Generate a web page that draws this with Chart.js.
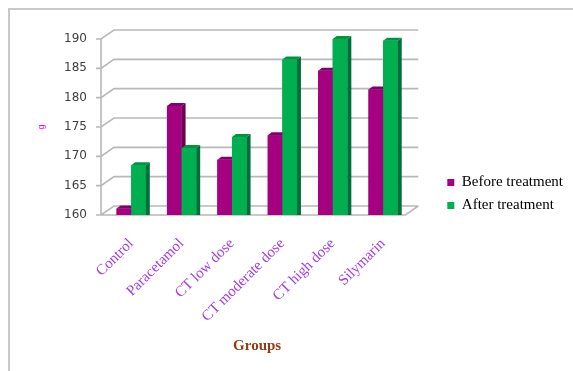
<!DOCTYPE html>
<html>
<head>
<meta charset="utf-8">
<script src="https://cdn.jsdelivr.net/npm/chart.js@4/dist/chart.umd.min.js"></script>
<style>
  body { margin: 0; background: #fff; }
</style>
</head>
<body>
<canvas id="myChart" width="573" height="371"></canvas>
<script>
// Data
var groups = ["Control", "Paracetamol", "CT low dose", "CT moderate dose", "CT high dose", "Silymarin"];
var beforeTreatment = [161.1, 178.6, 169.4, 173.6, 184.6, 181.4];
var afterTreatment = [168.5, 171.4, 173.3, 186.5, 190, 189.7];
var yTicks = [160, 165, 170, 175, 180, 185, 190];

// colours: front, side, top
var frontColors = ["#A5007F", "#00B050"];
var sideColors = ["#6A0052", "#00703A"];
var topColors = ["#82006A", "#009440"];
var depthX = 4, depthY = 3;

// back wall offset for the fake 3d grid
var wallX = 13, wallY = 9;

var frame = {
  id: "frame",
  afterLayout: function (chart) {
    // legend sits a little lower than the plot floor in the original
    chart.legend.top += 6;
    chart.legend.bottom += 6;
  },
  beforeDraw: function (chart) {
    var c = chart.ctx;
    c.save();
    c.fillStyle = "#fff";
    c.fillRect(0, 0, chart.width, chart.height);
    c.strokeStyle = "#c8c8c8";
    c.lineWidth = 2;
    c.beginPath();
    c.moveTo(9, chart.height);
    c.lineTo(9, 9);
    c.lineTo(chart.width, 9);
    c.stroke();
    c.restore();
  },
  beforeDatasetsDraw: function (chart) {
    var c = chart.ctx, a = chart.chartArea, y = chart.scales.y;
    var ax = a.left - 5;
    c.save();
    c.strokeStyle = "#b8b8b8";
    c.lineWidth = 1.6;
    c.beginPath();
    yTicks.forEach(function (v) {
      var py = y.getPixelForValue(v);
      c.moveTo(ax - 5, py);
      c.lineTo(ax, py);
      c.lineTo(ax + wallX, py - wallY);
      c.lineTo(a.right + 10, py - wallY);
    });
    // front axis and floor
    var b = y.getPixelForValue(yTicks[0]);
    c.moveTo(ax, y.getPixelForValue(yTicks[yTicks.length - 1]));
    c.lineTo(ax, b);
    c.lineTo(a.right - 3, b);
    c.lineTo(a.right - 3 + wallX, b - wallY);
    c.stroke();
    c.restore();
  },
  afterDatasetsDraw: function (chart) {
    var c = chart.ctx, a = chart.chartArea;
    c.save();
    c.beginPath();
    c.rect(a.left - 10, 0, a.right - a.left + 30, a.bottom);
    c.clip();
    chart.data.datasets.forEach(function (ds, i) {
      var meta = chart.getDatasetMeta(i);
      meta.data.forEach(function (el) {
        el.draw(c);
        var p = el.getProps(["x", "y", "base", "width"], true);
        var l = p.x - p.width / 2, r = p.x + p.width / 2;
        c.fillStyle = sideColors[i];
        c.beginPath();
        c.moveTo(r, p.y);
        c.lineTo(r + depthX, p.y - depthY);
        c.lineTo(r + depthX, p.base - depthY);
        c.lineTo(r, p.base);
        c.closePath();
        c.fill();
        c.fillStyle = topColors[i];
        c.beginPath();
        c.moveTo(l, p.y);
        c.lineTo(l + depthX, p.y - depthY);
        c.lineTo(r + depthX, p.y - depthY);
        c.lineTo(r, p.y);
        c.closePath();
        c.fill();
      });
    });
    c.restore();
  }
};

var ctx = document.getElementById("myChart").getContext("2d");

var myChart = new Chart(ctx, {
  type: "bar",
  data: {
    labels: groups,
    datasets: [
      { label: "Before treatment", data: beforeTreatment, backgroundColor: frontColors[0], borderWidth: 0 },
      { label: "After treatment", data: afterTreatment, backgroundColor: frontColors[1], borderWidth: 0 }
    ]
  },
  options: {
    responsive: false,
    animation: false,
    categoryPercentage: 0.58,
    barPercentage: 1.0,
    layout: { padding: { left: 33, top: 39, right: 0, bottom: 12 } },
    plugins: {
      tooltip: { enabled: false },
      legend: {
        position: "right",
        align: "end",
        fullSize: false,
        maxWidth: 300,
        labels: {
          boxWidth: 7,
          boxHeight: 7,
          padding: 8,
          color: "#000",
          font: { family: "Liberation Serif", size: 15 }
        }
      }
    },
    scales: {
      x: {
        grid: { display: false, drawTicks: false },
        border: { display: false },
        ticks: {
          minRotation: 45,
          maxRotation: 45,
          padding: 20,
          color: "#A23CE6",
          font: { family: "Liberation Serif", size: 15 }
        },
        title: {
          display: true,
          text: "Groups",
          color: "#943B10",
          font: { family: "Liberation Serif", size: 15, weight: "bold" },
          padding: { top: 4, bottom: 4 }
        },
        afterFit: function (s) { s.height = 144; }
      },
      y: {
        min: 160,
        max: 190,
        beginAtZero: false,
        grid: { display: false, drawTicks: false },
        border: { display: false },
        afterBuildTicks: function (s) { s.ticks = yTicks.map(function (v) { return { value: v }; }); },
        ticks: {
          padding: 19,
          color: "#404040",
          font: { family: "DejaVu Sans", size: 12 }
        },
        title: {
          display: true,
          text: "g",
          color: "#FF00FF",
          font: { family: "Liberation Sans", size: 9 },
          padding: { top: 3, bottom: 0 }
        },
        afterFit: function (s) { s.width = 73; }
      },
      gap: {
        position: "right",
        display: true,
        grid: { display: false, drawTicks: false },
        border: { display: false },
        ticks: { display: false },
        afterFit: function (s) { s.width = 31; }
      }
    }
  },
  plugins: [frame]
});
</script>
</body>
</html>
